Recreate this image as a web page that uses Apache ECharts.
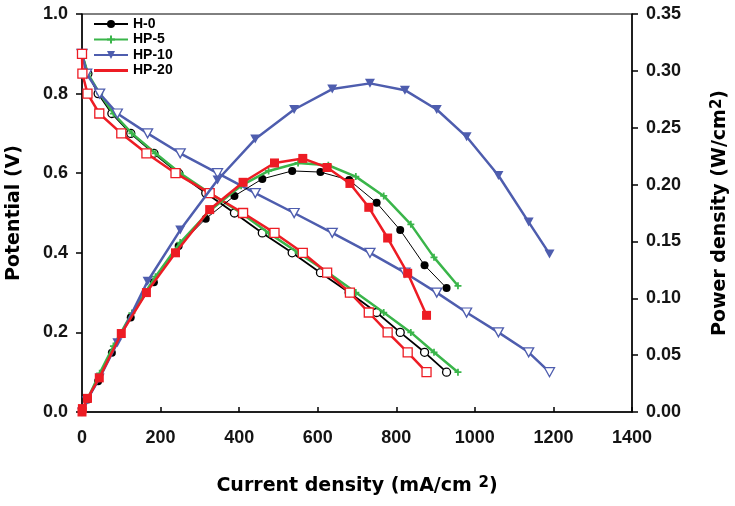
<!DOCTYPE html>
<html><head><meta charset="utf-8">
<script src="https://cdn.jsdelivr.net/npm/echarts@6/dist/echarts.min.js"></script>
<style>html,body{margin:0;padding:0;background:#fff}#c{width:735px;height:506px}</style>
</head><body><div id="c"></div>
<script>
// ---- data ----
const seriesNames = ['H-0', 'HP-5', 'HP-10', 'HP-20'];

const h0Current   = [0, 15, 41, 76, 124, 183, 246, 315, 388, 459, 535, 607, 680, 750, 810, 872, 928];
const h0Potential = [0.90, 0.85, 0.80, 0.75, 0.70, 0.65, 0.60, 0.55, 0.50, 0.45, 0.40, 0.35, 0.30, 0.25, 0.20, 0.15, 0.10];
const h0Power     = [0, 0.011, 0.027, 0.052, 0.083, 0.114, 0.146, 0.170, 0.190, 0.205, 0.212, 0.211, 0.204, 0.184, 0.160, 0.129, 0.109];

const hp5Current   = [0, 15, 45, 80, 127, 187, 250, 325, 405, 475, 550, 627, 697, 768, 837, 896, 957];
const hp5Potential = [0.90, 0.85, 0.80, 0.75, 0.70, 0.65, 0.60, 0.55, 0.50, 0.45, 0.40, 0.35, 0.30, 0.25, 0.20, 0.15, 0.10];
const hp5Power     = [0, 0.012, 0.034, 0.058, 0.087, 0.119, 0.149, 0.177, 0.199, 0.212, 0.219, 0.217, 0.207, 0.190, 0.165, 0.136, 0.111];

const hp10Current   = [0, 12, 45, 90, 167, 250, 345, 441, 540, 637, 733, 822, 903, 979, 1060, 1137, 1190];
const hp10Potential = [0.90, 0.85, 0.80, 0.75, 0.70, 0.65, 0.60, 0.55, 0.50, 0.45, 0.40, 0.35, 0.30, 0.25, 0.20, 0.15, 0.10];
const hp10Power     = [0, 0.010, 0.030, 0.061, 0.115, 0.160, 0.204, 0.240, 0.266, 0.284, 0.289, 0.283, 0.266, 0.242, 0.208, 0.167, 0.139];

const hp20Current   = [0, 1, 14, 44, 100, 164, 238, 325, 410, 490, 562, 624, 682, 730, 778, 829, 877];
const hp20Potential = [0.90, 0.85, 0.80, 0.75, 0.70, 0.65, 0.60, 0.55, 0.50, 0.45, 0.40, 0.35, 0.30, 0.25, 0.20, 0.15, 0.10];
const hp20Power     = [0, 0.003, 0.012, 0.030, 0.069, 0.105, 0.140, 0.178, 0.202, 0.219, 0.223, 0.215, 0.201, 0.180, 0.153, 0.122, 0.085];

// axis ranges / ticks
const xTickValues = [0, 200, 400, 600, 800, 1000, 1200, 1400];
const potentialTicks = [0.0, 0.2, 0.4, 0.6, 0.8, 1.0];
const powerTicks = [0.00, 0.05, 0.10, 0.15, 0.20, 0.25, 0.30, 0.35];

// ---- styling ----
const colors = ['#000000', '#3ab54a', '#4e5dae', '#ed1c24'];
const symbols = ['circle', 'path://M3,0H5V3H8V5H5V8H3V5H0V3H3Z', 'path://M0,0H10L5,9Z', 'rect'];
const symSizes = [8, 7, [10, 9], 9];
const lineW = [1.8, 2.5, 2.5, 2.5];
const powerLineW = [1, 2.5, 2.5, 2.5];

const currents = [h0Current, hp5Current, hp10Current, hp20Current];
const potentials = [h0Potential, hp5Potential, hp10Potential, hp20Potential];
const powers = [h0Power, hp5Power, hp10Power, hp20Power];

const zip = (a, b) => a.map((v, i) => [v, b[i]]);

const series = [];
seriesNames.forEach((n, i) => {
  series.push({
    name: n + ' (V)', type: 'line', xAxisIndex: 0, yAxisIndex: 0,
    data: zip(currents[i], potentials[i]),
    symbol: symbols[i], symbolSize: symSizes[i],
    lineStyle: { color: colors[i], width: lineW[i] },
    itemStyle: i === 1 ? { color: colors[i] } : { color: '#ffffff', borderColor: colors[i], borderWidth: 1.3 },
    z: 2 + i
  });
});
seriesNames.forEach((n, i) => {
  series.push({
    name: n, type: 'line', xAxisIndex: 0, yAxisIndex: 1,
    data: zip(currents[i], powers[i]),
    symbol: symbols[i], symbolSize: symSizes[i],
    lineStyle: { color: colors[i], width: powerLineW[i] },
    itemStyle: { color: colors[i] },
    z: 6 + i
  });
});

const titleFont = { fontFamily: 'DejaVu Sans', fontWeight: 'bold', fontSize: 19, color: '#000' };
const labelFont = { fontFamily: 'Liberation Sans', fontWeight: 'bold', fontSize: 18, color: '#141414' };

const richName = {
  a: Object.assign({}, titleFont, { verticalAlign: 'bottom', lineHeight: 20 }),
  s: Object.assign({}, titleFont, { fontSize: 15, lineHeight: 15, verticalAlign: 'top', padding: [0, 0, 11, 0] })
};

const chart = echarts.init(document.getElementById('c'), null, { renderer: 'canvas' });
chart.setOption({
  animation: false,
  backgroundColor: '#fff',
  grid: { left: 82, right: 103, top: 14, bottom: 94, show: true, borderColor: '#000', borderWidth: 1,
          containLabel: false, outerBoundsMode: 'none' },
  legend: {
    orient: 'vertical', left: 88, top: 12,
    itemWidth: 34, itemHeight: 10, itemGap: 1.5,
    textStyle: { fontFamily: 'Liberation Sans', fontWeight: 'bold', fontSize: 14, color: '#000' },
    data: [
      { name: seriesNames[0] }, { name: seriesNames[1] }, { name: seriesNames[2] },
      { name: seriesNames[3], icon: 'path://M0,0H34V3H0Z' }
    ]
  },
  xAxis: {
    type: 'value', min: xTickValues[0], max: xTickValues[xTickValues.length - 1], interval: 200,
    axisLine: { lineStyle: { color: '#000', width: 1.5 } },
    axisTick: { inside: true, length: 5, lineStyle: { color: '#000', width: 1.5 } },
    axisLabel: Object.assign({ margin: 17, formatter: v => String(v) }, labelFont),
    splitLine: { show: false },
    name: '{a|Current density (mA/cm }{s|2}{a|)}', nameLocation: 'middle', nameGap: 64,
    nameTextStyle: { rich: richName }
  },
  yAxis: [
    {
      type: 'value', position: 'left', min: potentialTicks[0], max: potentialTicks[potentialTicks.length - 1], interval: 0.2,
      axisLine: { show: true, lineStyle: { color: '#000', width: 1.5 } },
      axisTick: { show: true, inside: false, length: 6, lineStyle: { color: '#000', width: 1.5 } },
      axisLabel: Object.assign({ margin: 14, formatter: v => v.toFixed(1) }, labelFont),
      splitLine: { show: false },
      name: 'Potential (V)', nameLocation: 'middle', nameRotate: 90, nameGap: 58,
      nameTextStyle: titleFont
    },
    {
      type: 'value', position: 'right', min: powerTicks[0], max: powerTicks[powerTicks.length - 1], interval: 0.05,
      axisLine: { show: true, lineStyle: { color: '#000', width: 1.5 } },
      axisTick: { show: true, inside: false, length: 6, lineStyle: { color: '#000', width: 1.5 } },
      axisLabel: Object.assign({ margin: 14, formatter: v => v.toFixed(2) }, labelFont),
      splitLine: { show: false },
      name: '{a|Power density (W/cm}{s|2}{a|)}', nameLocation: 'middle', nameRotate: 90, nameGap: 78,
      nameTextStyle: { rich: richName }
    }
  ],
  series: series
});
</script></body></html>
